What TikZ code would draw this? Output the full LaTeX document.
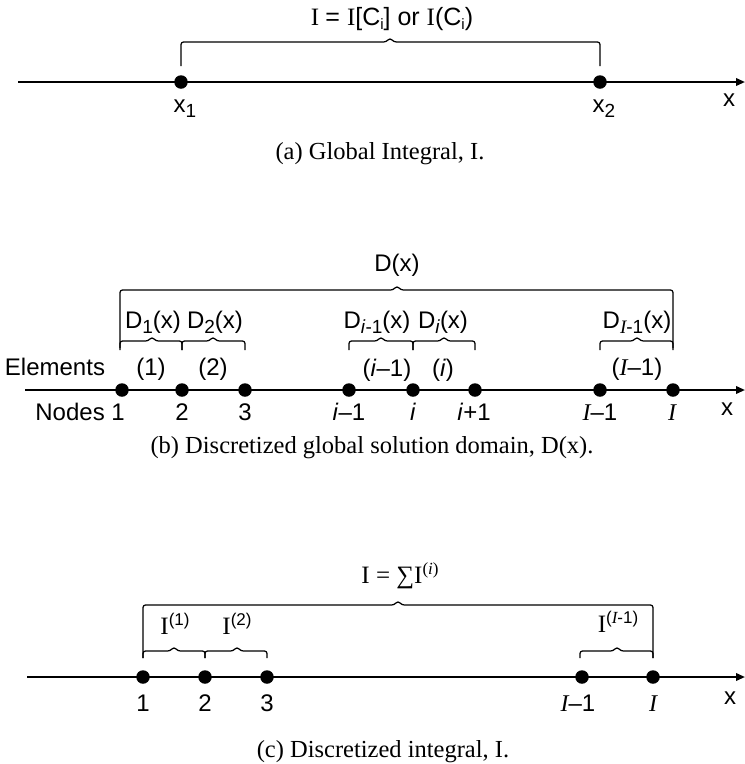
\documentclass[tikz,border=0pt]{standalone}
\usepackage{fontspec}
\setmainfont{Liberation Serif}
\setsansfont{Liberation Sans}
\usetikzlibrary{arrows.meta}
\tikzset{
  axis/.style={line width=2pt, -{Triangle[length=9pt,width=7.5pt]}},
  dot/.style={circle, fill=black, inner sep=0pt, minimum size=13.5pt},
  brk/.style={line width=1.25pt, rounded corners=2.5pt},
  lab/.style={font=\sffamily\fontsize{24}{28}\selectfont, inner sep=0pt, anchor=base},
  ser/.style={font=\rmfamily\fontsize{25}{29}\selectfont, inner sep=0pt, anchor=base},
  captxt/.style={font=\rmfamily\fontsize{24.5}{29}\selectfont, inner sep=0pt, anchor=base},
}
% left x, right x, top y, bottom y, notch x
\newcommand{\brkt}[5]{%
  \draw[brk] (#1,#4) -- (#1,#3) -- ({#5-4},#3) -- (#5,{#3-4}) -- ({#5+4},#3) -- (#2,#3) -- (#2,#4);}
\newcommand{\It}{{\rmfamily\itshape I}}
\newcommand{\sbs}[1]{\raisebox{-5pt}{\fontsize{19}{19}\selectfont #1}}
\newcommand{\sbsm}[1]{\raisebox{-4pt}{\fontsize{15}{15}\selectfont #1}}
\newcommand{\sps}[1]{\raisebox{9pt}{\sffamily\fontsize{17}{17}\selectfont #1}}
\begin{document}
\begin{tikzpicture}[x=1pt,y=-1pt]
\useasboundingbox (0,0) rectangle (745,764);
% ---------------- (a) ----------------
\coordinate (aL) at (18,82);
\coordinate (aR) at (745,82);
\draw[axis] (aL) -- (aR);
\node[dot] (a1) at (181,82) {};
\node[dot] (a2) at (600,82) {};
\brkt{181}{600}{42}{66}{390}
\node[ser] (aI) at (392,25) {I \textsf{= }I\textsf{[C\sbsm{i}] or }I\textsf{(C\sbsm{i})}};
\node[lab] (ax1) at (185,112) {x\sbs{1}};
\node[lab] (ax2) at (604,112) {x\sbs{2}};
\node[lab] (ax) at (729,106) {x};
\node[captxt] (capa) at (380,159) {(a) Global Integral, I.};
% ---------------- (b) ----------------
\coordinate (bL) at (25,390);
\coordinate (bR) at (745,390);
\draw[axis] (bL) -- (bR);
\foreach \n/\xx in {1/122,2/182,3/245,4/349,5/413,6/475,7/600,8/673}
  \node[dot] (b\n) at (\xx,390) {};
\node[lab] (bD) at (397,271) {D(x)};
\brkt{120}{673}{290}{348}{397}
\brkt{120}{182}{341}{350}{152}
\brkt{182}{245}{341}{350}{213}
\brkt{349}{413}{341}{350}{381}
\brkt{413}{475}{341}{350}{444}
\brkt{600}{673}{341}{350}{637}
\node[lab] (bD1) at (153,328) {D\sbs{1}(x)};
\node[lab] (bD2) at (215,328) {D\sbs{2}(x)};
\node[lab] (bDi1) at (377,328) {D\sbs{\textit{i}-1}(x)};
\node[lab] (bDi) at (443,328) {D\sbs{\textit{i}}(x)};
\node[lab] (bDI) at (637,328) {D\sbs{\It-1}(x)};
\node[lab] (bel) at (55,375) {Elements};
\node[lab] (be1) at (151,375) {(1)};
\node[lab] (be2) at (213,375) {(2)};
\node[lab] (be3) at (387,376) {(\textit{i}--1)};
\node[lab] (be4) at (443,376) {(\textit{i})};
\node[lab] (be5) at (637,375) {(\It--1)};
\node[lab, anchor=base east] (bno) at (125,420) {Nodes 1};
\node[lab] (bn2) at (182,420) {2};
\node[lab] (bn3) at (245,420) {3};
\node[lab] (bn4) at (349,420) {\textit{i}--1};
\node[lab] (bn5) at (413,420) {\textit{i}};
\node[lab] (bn6) at (474,420) {\textit{i}+1};
\node[lab] (bn7) at (600,420) {\It--1};
\node[lab] (bn8) at (672,420) {\It};
\node[lab] (bx) at (727,415) {x};
\node[captxt] (capb) at (372,453) {(b) Discretized global solution domain, D(x).};
% ---------------- (c) ----------------
\coordinate (cL) at (27,677);
\coordinate (cR) at (745,677);
\draw[axis] (cL) -- (cR);
\foreach \n/\xx in {1/143,2/205,3/267,4/582,5/653}
  \node[dot] (c\n) at (\xx,677) {};
\node[ser] (cI) at (400,583) {I = ∑I\raisebox{9pt}{\fontsize{17}{17}\selectfont(\textit{i})}};
\brkt{143}{653}{605}{658}{398}
\brkt{143}{205}{651}{658}{174}
\brkt{205}{267}{651}{658}{237}
\brkt{580}{653}{651}{658}{617}
\node[ser] (cI1) at (175,634) {I\sps{(1)}};
\node[ser] (cI2) at (237,634) {I\sps{(2)}};
\node[ser] (cI3) at (618,632) {I\sps{(\It-1)}};
\node[lab] (cn1) at (143,711) {1};
\node[lab] (cn2) at (205,711) {2};
\node[lab] (cn3) at (267,711) {3};
\node[lab] (cn4) at (578,711) {\It--1};
\node[lab] (cn5) at (653,711) {\It};
\node[lab] (cx) at (730,704) {x};
\node[captxt] (capc) at (383,757) {(c) Discretized integral, I.};
\end{tikzpicture}
\end{document}
